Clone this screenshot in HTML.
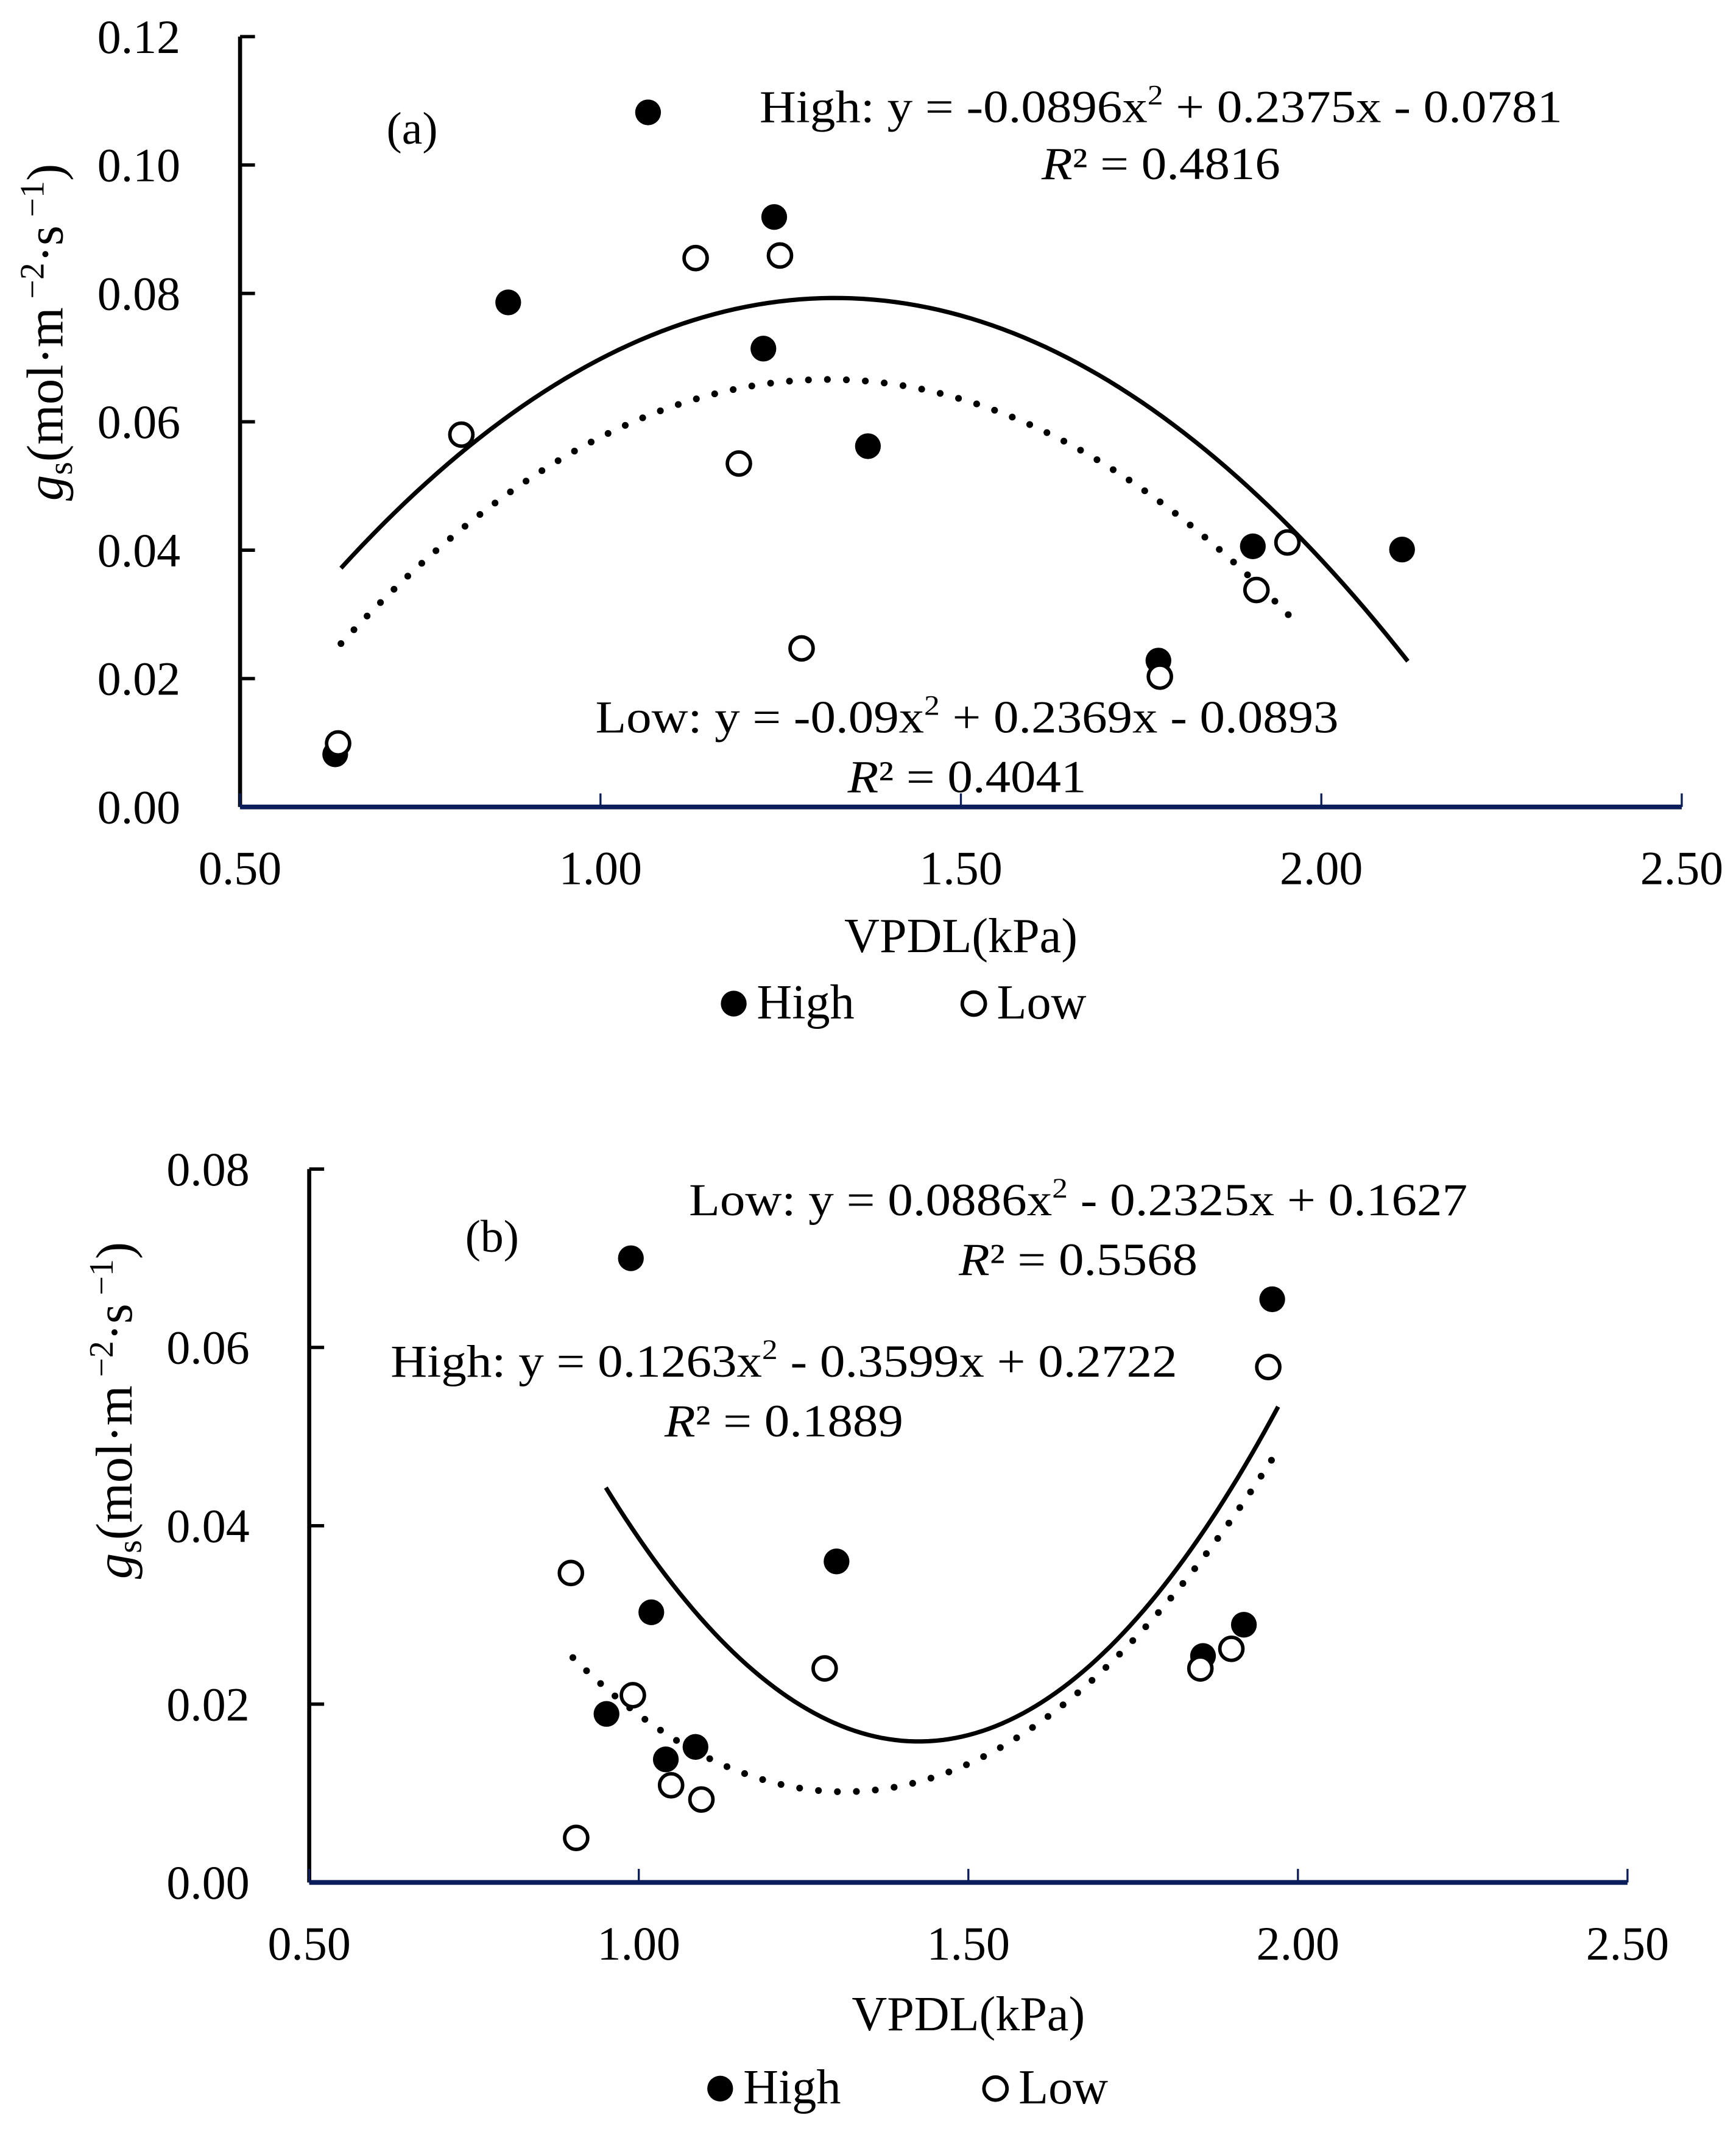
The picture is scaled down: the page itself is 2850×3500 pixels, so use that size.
<!DOCTYPE html>
<html><head><meta charset="utf-8"><style>
html,body{margin:0;padding:0;background:#fff}
svg{display:block;font-family:"Liberation Serif","DejaVu Serif",serif}
</style></head><body>
<svg id="chart" width="2850" height="3500" viewBox="0 0 1280 1572" preserveAspectRatio="none" xmlns="http://www.w3.org/2000/svg">
<g id="pa"></g>
<g id="pb"></g>
</svg>
<script>
// Panel (a) data
const aHighX = [0.632, 0.872, 1.066, 1.241, 1.226, 1.371, 1.905, 2.112, 1.774];
const aHighY = [0.0082, 0.0786, 0.1082, 0.0919, 0.0714, 0.0562, 0.0406, 0.0401, 0.0228];
const aLowX = [0.636, 0.807, 1.132, 1.249, 1.192, 1.279, 1.776, 1.910, 1.953];
const aLowY = [0.0099, 0.0580, 0.0855, 0.0859, 0.0535, 0.0247, 0.0203, 0.0338, 0.0412];
const aHighCoef = [-0.0896, 0.2375, -0.0781];
const aLowCoef = [-0.09, 0.2369, -0.0893];
const aHighRange = [0.64, 2.12];
const aLowRange = [0.64, 1.96];
const aYTicks = ["0.00","0.02","0.04","0.06","0.08","0.10","0.12"];
const aXTicks = ["0.50","1.00","1.50","2.00","2.50"];
// Panel (b) data
const bHighX = [0.988, 1.019, 0.951, 1.041, 1.086, 1.300, 1.856, 1.918, 1.961];
const bHighY = [0.0700, 0.0303, 0.0189, 0.0138, 0.0152, 0.0360, 0.0254, 0.0289, 0.0654];
const bLowX = [0.897, 0.991, 0.905, 1.049, 1.095, 1.282, 1.852, 1.899, 1.955];
const bLowY = [0.0347, 0.0210, 0.0050, 0.0109, 0.0093, 0.0240, 0.0240, 0.0262, 0.0578];
const bHighCoef = [0.1263, -0.3599, 0.2722];
const bLowCoef = [0.0886, -0.2325, 0.1627];
const bHighRange = [0.95, 1.97];
const bLowRange = [0.90, 1.96];
const bYTicks = ["0.00","0.02","0.04","0.06","0.08"];
const bXTicks = ["0.50","1.00","1.50","2.00","2.50"];

const NS="http://www.w3.org/2000/svg";
function mk(parent,tag,attrs,text){const e=document.createElementNS(NS,tag);for(const k in attrs)e.setAttribute(k,attrs[k]);if(text!==undefined)e.textContent=text;parent.appendChild(e);return e;}

function panel(g,cfg){
  const X=v=>cfg.x0+(v-0.5)/2*(cfg.x1-cfg.x0);
  const Y=v=>cfg.y0-v/cfg.ymax*(cfg.y0-cfg.yTop);
  let e=mk(g,'line',{x1:cfg.x0,y1:cfg.yTop,x2:cfg.x0,y2:cfg.y0,stroke:'#000','stroke-width':3});
  
  
  cfg.yTicks.forEach((t,i)=>{
    const v=parseFloat(t), y=Y(v);
    let l=mk(g,'line',{x1:cfg.x0,y1:y,x2:cfg.x0+11,y2:y,stroke:'#000','stroke-width':2.5});
    
    
    let tx=mk(g,'text',{x:cfg.x0-44,y:y+12,'text-anchor':'end','font-size':35},t);
    
    
  });
  e=mk(g,'line',{x1:cfg.x0,y1:cfg.y0,x2:cfg.x1,y2:cfg.y0,stroke:'#0b1d5a','stroke-width':3.5});
  
  
  cfg.xTicks.forEach(t=>{
    const x=X(parseFloat(t));
    let l=mk(g,'line',{x1:x,y1:cfg.y0,x2:x,y2:cfg.y0-10,stroke:'#0b1d5a','stroke-width':1.5});
    
    
    let tx=mk(g,'text',{x:x,y:cfg.y0+57,'text-anchor':'middle','font-size':35},t);
    
    
  });
  function curve(c,r,dotted,name){
    let d='';
    for(let i=0;i<=100;i++){const v=r[0]+(r[1]-r[0])*i/100;const y=c[0]*v*v+c[1]*v+c[2];d+=(i?'L':'M')+X(v).toFixed(2)+' '+Y(y).toFixed(2);}
    const a={d:d,fill:'none',stroke:'#000'};
    if(dotted){a['stroke-width']=5;a['stroke-dasharray']='0 14';a['stroke-linecap']='round';}else{a['stroke-width']=3.2;}
    let p=mk(g,'path',a);
    
    
  }
  curve(cfg.highCoef,cfg.highRange,false,'high-trendline');
  curve(cfg.lowCoef,cfg.lowRange,true,'low-trendline');
  cfg.highX.forEach((v,i)=>{
    let c=mk(g,'circle',{cx:X(v),cy:Y(cfg.highY[i]),r:9.5,fill:'#000'});
    
    
  });
  cfg.lowX.forEach((v,i)=>{
    let c=mk(g,'circle',{cx:X(v),cy:Y(cfg.lowY[i]),r:8.5,fill:'#fff',stroke:'#000','stroke-width':2.6});
    
    
  });
  let t=mk(g,'text',{transform:`translate(${cfg.ytx},${cfg.yty}) rotate(-90)`,'text-anchor':'middle','font-size':38});
  
  
  mk(t,'tspan',{'font-style':'italic'},'g');
  mk(t,'tspan',{'font-size':25,dy:7},'s');
  mk(t,'tspan',{dy:-7},'(mol·m');
  mk(t,'tspan',{'font-size':25,dy:-14},' −2');
  mk(t,'tspan',{dy:14},'·s');
  mk(t,'tspan',{'font-size':25,dy:-14},' −1');
  mk(t,'tspan',{dy:14},')');
  t=mk(g,'text',{x:(cfg.x0+cfg.x1)/2,y:cfg.xty,'text-anchor':'middle','font-size':36},'VPDL(kPa)');
  
  
  let c=mk(g,'circle',{cx:cfg.lh,cy:cfg.ly-11,r:9.5,fill:'#000'});
  
  
  t=mk(g,'text',{x:cfg.lh+17,y:cfg.ly,'font-size':36},'High');
  
  
  c=mk(g,'circle',{cx:cfg.ll,cy:cfg.ly-11,r:8.5,fill:'#fff',stroke:'#000','stroke-width':2.6});
  
  
  t=mk(g,'text',{x:cfg.ll+17,y:cfg.ly,'font-size':36},'Low');
  
  
  cfg.notes.forEach(n=>{
    const a={x:n.x,y:n.y,'text-anchor':n.anchor||'middle','font-size':n.fs||34};
    if(n.len){a.textLength=n.len;a.lengthAdjust='spacingAndGlyphs';}
    let tt=mk(g,'text',a);
    
    
    n.parts.forEach(p=>{const at={};if(p.sup){at['font-size']=21;at.dy=-13;}if(p.back){at.dy=13;}if(p.it)at['font-style']='italic';mk(tt,'tspan',at,p.t);});
  });
}
function eq(label,a,b,c){
  return [{t:label+' y = '+a+'x'},{t:'2',sup:1},{t:' '+b+'x '+c,back:1}];
}
function r2(v){return [{t:'R',it:1},{t:'² = '+v}];}

panel(document.getElementById('pa'),{x0:177,x1:1240,y0:595,yTop:27,ymax:0.12,
  yTicks:aYTicks,xTicks:aXTicks,highX:aHighX,highY:aHighY,lowX:aLowX,lowY:aLowY,
  highCoef:aHighCoef,lowCoef:aLowCoef,highRange:aHighRange,lowRange:aLowRange,
  ytx:46,yty:245,xty:702,lh:541,ll:718,ly:751,
  notes:[
    {name:'panel-label-a',x:285,y:106,anchor:'start',fs:34,parts:[{t:'(a)'}]},
    {name:'high-equation',x:856,y:90,len:592,parts:eq('High:','-0.0896','+ 0.2375','- 0.0781')},
    {name:'high-r-squared',x:856,y:132,len:176,parts:r2('0.4816')},
    {name:'low-equation',x:713,y:540,len:548,parts:eq('Low:','-0.09','+ 0.2369','- 0.0893')},
    {name:'low-r-squared',x:713,y:584,len:176,parts:r2('0.4041')}
  ]});
panel(document.getElementById('pb'),{x0:228,x1:1200,y0:1388,yTop:862,ymax:0.08,
  yTicks:bYTicks,xTicks:bXTicks,highX:bHighX,highY:bHighY,lowX:bLowX,lowY:bLowY,
  highCoef:bHighCoef,lowCoef:bLowCoef,highRange:bHighRange,lowRange:bLowRange,
  ytx:97,yty:1040,xty:1497,lh:531,ll:734,ly:1551,
  notes:[
    {name:'panel-label-b',x:343,y:923,anchor:'start',fs:34,parts:[{t:'(b)'}]},
    {name:'low-equation',x:795,y:896,len:574,parts:eq('Low:','0.0886','- 0.2325','+ 0.1627')},
    {name:'low-r-squared',x:795,y:940,len:176,parts:r2('0.5568')},
    {name:'high-equation',x:578,y:1015,len:580,parts:eq('High:','0.1263','- 0.3599','+ 0.2722')},
    {name:'high-r-squared',x:578,y:1059,len:176,parts:r2('0.1889')}
  ]});
</script>
</body></html>
